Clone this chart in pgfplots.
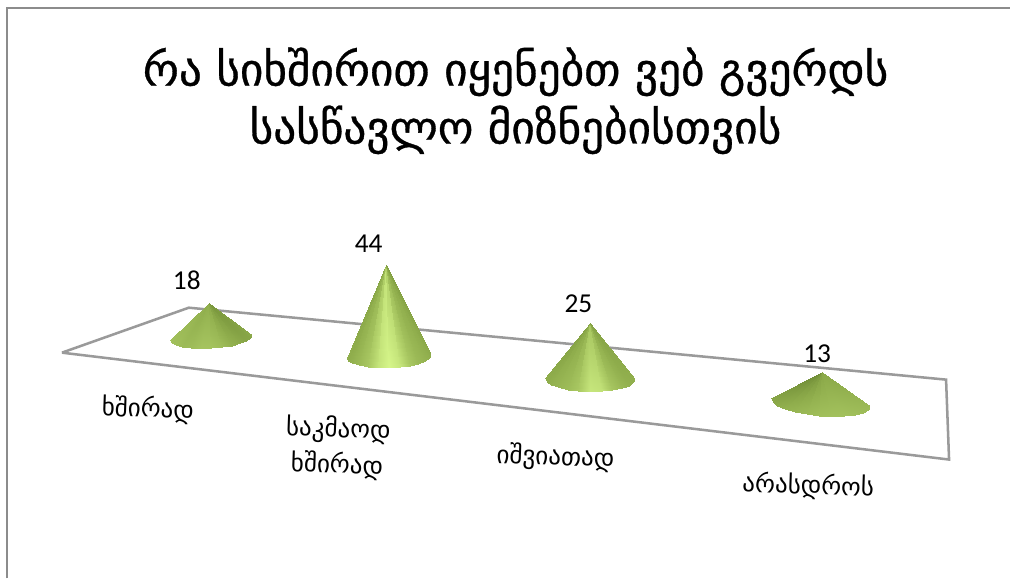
\documentclass[border=0pt]{standalone}
\usepackage{fontspec}
\setmainfont{DejaVu Sans}
\newfontfamily\titlefont[FakeBold=0.7]{DejaVu Sans}
\newfontfamily\numfont{Carlito}
\usepackage{pgfplots}
\pgfplotsset{compat=1.18}
\definecolor{framegray}{HTML}{8C8C8C}
\definecolor{floorgray}{HTML}{9A9A9A}
\tikzset{catlabel/.style={font=\fontsize{18.8pt}{27pt}\selectfont, align=center, text=black, rotate=-2}}
\begin{document}
\begin{tikzpicture}
\begin{axis}[
    hide axis, scale only axis,
    width=758.25pt, height=434.25pt,
    view={0}{90},
    xmin=0, xmax=1011, ymin=0, ymax=579, zmin=0, zmax=1,
    y dir=reverse,
    enlargelimits=false, clip=false,
    colormap={cone}{rgb255(0cm)=(94,122,42) rgb255(4cm)=(143,173,76) rgb255(7cm)=(176,207,104) rgb255(10cm)=(214,246,138)},
    point meta min=0, point meta max=1,
    conesurf/.style={surf, shader=interp, mesh/rows=2, point meta=explicit},
]
% keeps the whole canvas in the bounding box
\path (axis cs:0,0,0) (axis cs:1011,579,0);
% chart frame
\addplot3[framegray, line width=1.5pt] coordinates {(7.5,579,0) (7.5,8,0) (1011,8,0)};
% floor
\addplot3[floorgray, line width=1.9pt] coordinates {(62,353,0) (189,308,0) (947,380,0) (950,460,0) (62,353,0)};

% xhshirad 18
\addplot3[conesurf] table[meta=c] {
x y z c
209 303 0 .42
209 303 0 .42
209 303 0 .42
209 303 0 .40
209 303 0 .40
209 303 0 .42
209 303 0 .42
209 303 0 .38
209 303 0 .30
209 303 0 .26
209 303 0 .22
209 303 0 .22
209 303 0 .24
170.1 340.5 0 .58
171.7 343.1 0 .56
175.9 345.4 0 .56
182.6 347.2 0 .52
191.1 348.3 0 .54
201.0 348.8 0 .60
211.6 348.5 0 .60
222.2 347.5 0 .54
232.0 345.9 0 .44
240.4 343.6 0 .38
246.7 341.1 0 .34
250.7 338.3 0 .34
251.9 335.5 0 .38
};
% sakmaod xshirad 44
\addplot3[conesurf] table[meta=c] {
x y z c
386.3 265 0 .34
386.3 265 0 .32
386.3 265 0 .36
386.3 265 0 .42
386.3 265 0 .50
386.3 265 0 .70
386.3 265 0 .85
386.3 265 0 .70
386.3 265 0 .50
386.3 265 0 .42
386.3 265 0 .38
386.3 265 0 .34
386.3 265 0 .30
347.0 358.3 0 .42
348.5 361.1 0 .40
352.8 363.6 0 .44
359.5 365.7 0 .52
368.3 367.2 0 .64
378.4 367.9 0 .86
389.3 368.0 0 1
400.2 367.3 0 .88
410.3 365.9 0 .64
418.9 363.9 0 .52
425.6 361.4 0 .46
429.7 358.6 0 .42
431.0 355.7 0 .38
};
% ishviatad 25
\addplot3[conesurf] table[meta=c] {
x y z c
591 323.3 0 .30
591 323.3 0 .30
591 323.3 0 .32
591 323.3 0 .36
591 323.3 0 .40
591 323.3 0 .48
591 323.3 0 .66
591 323.3 0 .62
591 323.3 0 .48
591 323.3 0 .38
591 323.3 0 .34
591 323.3 0 .32
591 323.3 0 .32
545.9 378.5 0 .40
547.4 381.9 0 .40
551.9 385.1 0 .44
559.0 387.8 0 .48
568.3 390.0 0 .54
579.0 391.4 0 .64
590.6 392 0 .88
602.2 391.7 0 .84
612.9 390.5 0 .62
622.2 388.5 0 .50
629.3 385.9 0 .44
633.8 382.8 0 .42
635.3 379.5 0 .42
};
% arasdros 13
\addplot3[conesurf] table[meta=c] {
x y z c
822.7 372.3 0 .12
822.7 372.3 0 .12
822.7 372.3 0 .14
822.7 372.3 0 .16
822.7 372.3 0 .20
822.7 372.3 0 .24
822.7 372.3 0 .30
822.7 372.3 0 .34
822.7 372.3 0 .36
822.7 372.3 0 .36
822.7 372.3 0 .36
822.7 372.3 0 .36
822.7 372.3 0 .36
772.0 398.35 0 .34
773.4 402.1 0 .36
778.0 405.9 0 .40
785.6 409.5 0 .44
795.6 412.5 0 .48
807.4 414.9 0 .52
820.1 416.5 0 .56
833.0 417.1 0 .58
844.9 416.7 0 .58
855.4 415.3 0 .56
863.4 413.1 0 .54
868.6 410.1 0 .52
870.6 406.65 0 .50
};

% value labels
\addplot3[draw=none, mark=none,
    nodes near coords, point meta=explicit symbolic,
    nodes near coords style={anchor=center, text=black, font=\numfont\fontsize{20.5pt}{24pt}\selectfont}]
  coordinates {
    (187,281,0) [18]
    (369,244,0) [44]
    (579,304,0) [25]
    (818,354,0) [13]
  };

% title
\node[font=\titlefont\fontsize{34pt}{43.5pt}\selectfont, align=center, text=black, anchor=center]
    at (axis cs:516,101,0) {რა სიხშირით იყენებთ ვებ გვერდს\\სასწავლო მიზნებისთვის};
% category labels
\node[catlabel] at (axis cs:148,410,0) {ხშირად};
\node[catlabel] at (axis cs:338,448,0) {საკმაოდ\\ხშირად};
\node[catlabel] at (axis cs:556,458,0) {იშვიათად};
\node[catlabel] at (axis cs:809,487,0) {არასდროს};
\end{axis}
\end{tikzpicture}
\end{document}
